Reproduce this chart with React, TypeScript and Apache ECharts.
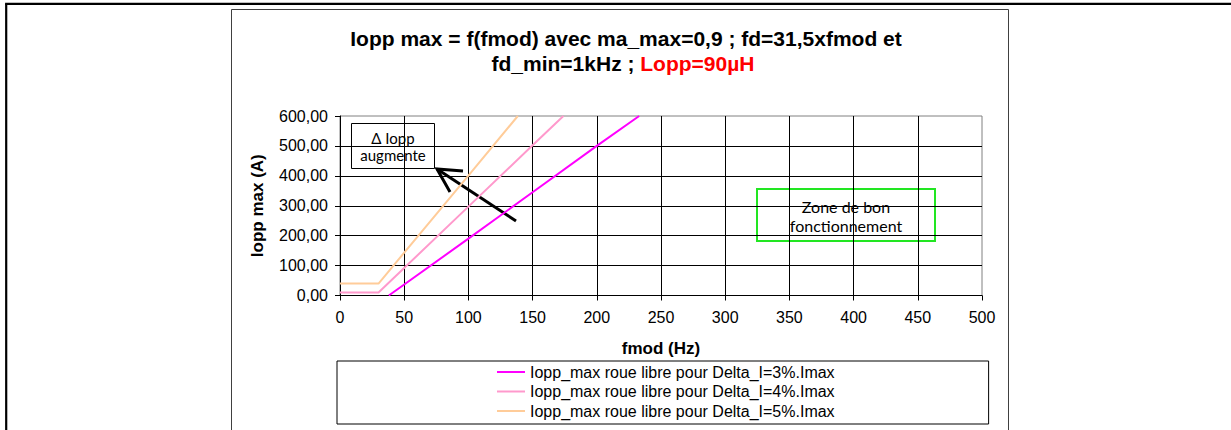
import React, { useEffect, useRef } from "react";
import * as echarts from "echarts";

const seriesNames = [
  "Iopp_max roue libre pour Delta_I=3%.Imax",
  "Iopp_max roue libre pour Delta_I=4%.Imax",
  "Iopp_max roue libre pour Delta_I=5%.Imax",
];
const seriesColors = ["#ff00ff", "#ff99cc", "#ffcc99"];

const fmod3 = [38, 100, 150, 200, 233];
const iopp3 = [0, 190, 345, 500, 600];
const fmod4 = [0, 30, 100, 150, 174];
const iopp4 = [10, 10, 297, 502, 600];
const fmod5 = [0, 30, 100, 138.5];
const iopp5 = [40, 40, 401, 600];

const titleLine1 = "Iopp max = f(fmod) avec ma_max=0,9 ; fd=31,5xfmod et";
const titleLine2a = "fd_min=1kHz ; ";
const titleLine2b = "Lopp=90µH";
const xAxisName = "fmod (Hz)";
const yAxisName = "Iopp max (A)";
const noteDelta = ["Δ Iopp", "augmente"];
const noteZone = ["Zone de bon", "fonctionnement"];

const FONT = "'Liberation Sans', Arial, sans-serif";
const NOTE_FONT = "Lato, 'Liberation Sans', sans-serif";

function pairs(xs: number[], ys: number[]) {
  return xs.map((x, i) => [x, ys[i]]);
}

export default function App() {
  const ref = useRef<HTMLDivElement>(null);
  useEffect(() => {
    if (!ref.current) return;
    const chart = echarts.init(ref.current, null, { renderer: "svg" });
    const data = [pairs(fmod3, iopp3), pairs(fmod4, iopp4), pairs(fmod5, iopp5)];
    chart.setOption({
      animation: false,
      backgroundColor: "#ffffff",
      title: [
        {
          text: titleLine1,
          left: 621,
          top: 23,
          textAlign: "center",
          textStyle: { fontFamily: FONT, fontWeight: "bold", fontSize: 21, color: "#000" },
        },
        {
          text: "{a|" + titleLine2a + "}{b|" + titleLine2b + "}",
          left: 618,
          top: 48,
          textAlign: "center",
          textStyle: {
            fontFamily: FONT,
            fontWeight: "bold",
            fontSize: 21,
            rich: {
              a: { fontFamily: FONT, fontWeight: "bold", fontSize: 21, color: "#000" },
              b: { fontFamily: FONT, fontWeight: "bold", fontSize: 21, color: "#ff0000" },
            },
          },
        },
      ],
      grid: {
        left: 340,
        right: 249,
        top: 116,
        bottom: 134.5,
        show: true,
        borderColor: "#808080",
        borderWidth: 1,
        backgroundColor: "transparent",
      },
      legend: {
        orient: "vertical",
        left: 337,
        top: 361,
        padding: [3, 154, 5, 160],
        itemGap: 3.5,
        itemWidth: 28,
        itemHeight: 2,
        icon: "rect",
        borderColor: "#000",
        borderWidth: 1,
        data: seriesNames,
        textStyle: { fontFamily: FONT, fontSize: 16, color: "#000" },
      },
      xAxis: {
        type: "value",
        min: 0,
        max: 500,
        interval: 50,
        name: xAxisName,
        nameLocation: "middle",
        nameGap: 44,
        nameTextStyle: { fontFamily: FONT, fontWeight: "bold", fontSize: 17, color: "#000" },
        axisLine: { show: true, onZero: false, lineStyle: { color: "#000", width: 1 } },
        axisTick: { show: true, length: 5, lineStyle: { color: "#000" } },
        axisLabel: { fontFamily: FONT, fontSize: 16, color: "#000", margin: 14 },
        splitLine: { show: true, showMaxLine: false, lineStyle: { color: "#000", width: 1 } },
      },
      yAxis: {
        type: "value",
        min: 0,
        max: 600,
        interval: 100,
        name: yAxisName,
        nameLocation: "middle",
        nameGap: 74,
        nameRotate: 90,
        nameTextStyle: { fontFamily: FONT, fontWeight: "bold", fontSize: 17, color: "#000" },
        axisLine: { show: true, onZero: false, lineStyle: { color: "#000", width: 1 } },
        axisTick: { show: true, length: 5, lineStyle: { color: "#000" } },
        axisLabel: {
          fontFamily: FONT,
          fontSize: 16,
          color: "#000",
          margin: 12,
          formatter: (v: number) => v.toFixed(2).replace(".", ","),
        },
        splitLine: { show: true, showMaxLine: false, lineStyle: { color: "#000", width: 1 } },
      },
      series: data.map((d, i) => ({
        name: seriesNames[i],
        type: "line",
        data: d,
        symbol: "none",
        color: seriesColors[i],
        lineStyle: { color: seriesColors[i], width: 2 },
        z: 3,
      })),
      graphic: [
        {
          type: "line",
          z: 100,
          shape: { x1: 6.2, y1: 3.8, x2: 6.2, y2: 430 },
          style: { stroke: "#000", lineWidth: 2.2 },
        },
        {
          type: "line",
          z: 100,
          shape: { x1: 5.1, y1: 3.8, x2: 1231, y2: 3.8 },
          style: { stroke: "#000", lineWidth: 2.2 },
        },
        {
          type: "rect",
          z: 0,
          silent: true,
          shape: { x: 231.5, y: 9.5, width: 777, height: 440 },
          style: { fill: "none", stroke: "#404040", lineWidth: 1 },
        },
        {
          type: "group",
          z: 100,
          children: [
            {
              type: "rect",
              shape: { x: 351.5, y: 123.5, width: 83, height: 45 },
              style: { fill: "#fff", stroke: "#000", lineWidth: 1 },
            },
            {
              type: "text",
              style: {
                x: 393,
                y: 138,
                text: noteDelta[0],
                align: "center",
                verticalAlign: "middle",
                font: "15px " + NOTE_FONT,
                fill: "#000",
              },
            },
            {
              type: "text",
              style: {
                x: 393,
                y: 155,
                text: noteDelta[1],
                align: "center",
                verticalAlign: "middle",
                font: "15px " + NOTE_FONT,
                fill: "#000",
              },
            },
            {
              type: "line",
              shape: { x1: 516, y1: 221, x2: 437, y2: 169 },
              style: { stroke: "#000", lineWidth: 3 },
            },
            {
              type: "polyline",
              shape: { points: [[463, 171], [437, 169], [450, 192]] },
              style: { stroke: "#000", lineWidth: 3, fill: "none" },
            },
            {
              type: "rect",
              shape: { x: 757, y: 189, width: 178, height: 52 },
              style: { fill: "#fff", stroke: "#22e622", lineWidth: 2 },
            },
            {
              type: "text",
              style: {
                x: 846,
                y: 206,
                text: noteZone[0],
                align: "center",
                verticalAlign: "middle",
                font: "16px " + NOTE_FONT,
                fill: "#000",
              },
            },
            {
              type: "text",
              style: {
                x: 846,
                y: 225,
                text: noteZone[1],
                align: "center",
                verticalAlign: "middle",
                font: "16px " + NOTE_FONT,
                fill: "#000",
              },
            },
          ],
        },
      ],
    });
    return () => chart.dispose();
  }, []);
  return (
    <div
      ref={ref}
      style={{ position: "fixed", left: 0, top: 0, width: 1231, height: 430, background: "#fff" }}
    />
  );
}
